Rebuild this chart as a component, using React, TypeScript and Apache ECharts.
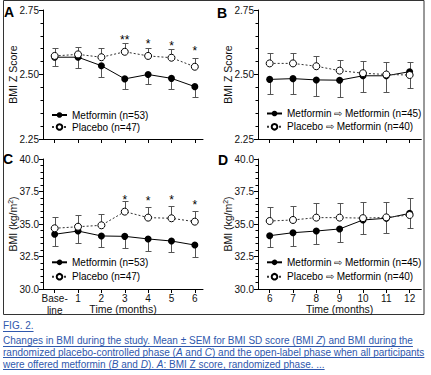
import React, { useEffect, useRef } from "react";
import * as echarts from "echarts";

// ---------- data ----------
const monthsRandom = [0, 1, 2, 3, 4, 5, 6];
const monthsOpen = [6, 7, 8, 9, 10, 11, 12];

const zMetRand = [2.567, 2.567, 2.534, 2.483, 2.5, 2.485, 2.453];
const zMetRandSem = [0.033, 0.04, 0.043, 0.04, 0.038, 0.04, 0.041];
const zPlaRand = [2.572, 2.578, 2.567, 2.588, 2.572, 2.565, 2.53];
const zPlaRandSem = [0.032, 0.03, 0.035, 0.035, 0.032, 0.034, 0.035];
const zStars = ["", "", "", "**", "*", "*", "*"];
const zStarY = [0, 0, 0, 2.645, 2.63, 2.622, 2.603];

const zMetOpen = [2.481, 2.484, 2.479, 2.478, 2.495, 2.495, 2.511];
const zMetOpenSem = [0.058, 0.06, 0.061, 0.065, 0.064, 0.064, 0.064];
const zPlaOpen = [2.543, 2.543, 2.532, 2.515, 2.505, 2.5, 2.498];
const zPlaOpenSem = [0.039, 0.039, 0.039, 0.042, 0.046, 0.048, 0.052];

const bmiMetRand = [34.21, 34.46, 34.08, 34.05, 33.85, 33.69, 33.38];
const bmiMetRandSem = [0.88, 0.9, 0.88, 0.93, 0.9, 0.87, 0.89];
const bmiPlaRand = [34.67, 34.79, 34.9, 35.95, 35.49, 35.44, 35.18];
const bmiPlaRandSem = [0.84, 0.88, 0.87, 0.82, 0.84, 0.92, 0.82];
const bmiStars = ["", "", "", "*", "*", "*", "*"];
const bmiStarY = [0, 0, 0, 37.1, 37.02, 37.1, 36.72];

const bmiMetOpen = [34.1, 34.33, 34.46, 34.62, 35.31, 35.44, 35.82];
const bmiMetOpenSem = [0.85, 1.02, 1.02, 1.03, 1.1, 1.16, 1.15];
const bmiPlaOpen = [35.23, 35.31, 35.49, 35.49, 35.45, 35.51, 35.69];
const bmiPlaOpenSem = [1.1, 1.1, 1.15, 1.15, 1.23, 1.21, 1.28];
const noStars = ["", "", "", "", "", "", ""];

const zTicks = [2.25, 2.5, 2.75];
const bmiTicks = [30, 32.5, 35, 37.5, 40];

const nameMetRand = "Metformin (n=53)";
const namePlaRand = "Placebo (n=47)";
const nameMetOpen = "Metformin ⇨ Metformin (n=45)";
const namePlaOpen = "Placebo ⇨ Metformin (n=40)";
const panelLetters = ["A", "B", "C", "D"];
const xTitle = "Time (months)";
const yTitleZ = "BMI Z Score";
const yTitleBmi = "BMI (kg/m{sup|2})";

const captionLines = [
  "FIG. 2.",
  "Changes in BMI during the study. Mean ± SEM for BMI SD score (BMI {i|Z}) and BMI during the",
  "randomized placebo-controlled phase ({i|A} and {i|C}) and the open-label phase when all participants",
  "were offered metformin ({i|B} and {i|D}). {i|A}: BMI Z score, randomized phase. ...",
];

// ---------- styles / layout ----------
const FONT = '"Liberation Sans", Arial, Helvetica, sans-serif';
const BLUE = "#2f58ad";
const BAR = "#555";
const CAP_SIZE = 10;

const grids = [
  { left: 43, top: 10, width: 160, height: 129 },
  { left: 258, top: 10, width: 163.3, height: 129 },
  { left: 43, top: 159, width: 160, height: 130 },
  { left: 258, top: 159, width: 163.3, height: 130 },
];
const legendPos = [
  { left: 51, top: 109, itemGap: 0 },
  { left: 266, top: 107.5, itemGap: 1.3 },
  { left: 51, top: 256.3, itemGap: 2.4 },
  { left: 266, top: 256.3, itemGap: 2.4 },
];
const letterPos = [
  [4, 12],
  [217, 13.3],
  [3, 159],
  [218, 160],
];

type Panel = {
  x: number[];
  met: number[];
  metSem: number[];
  pla: number[];
  plaSem: number[];
  stars: string[];
  starY: number[];
  metName: string;
  plaName: string;
  isZ: boolean;
  isOpen: boolean;
};

const panels: Panel[] = [
  { x: monthsRandom, met: zMetRand, metSem: zMetRandSem, pla: zPlaRand, plaSem: zPlaRandSem, stars: zStars, starY: zStarY, metName: nameMetRand, plaName: namePlaRand, isZ: true, isOpen: false },
  { x: monthsOpen, met: zMetOpen, metSem: zMetOpenSem, pla: zPlaOpen, plaSem: zPlaOpenSem, stars: noStars, starY: zStarY, metName: nameMetOpen, plaName: namePlaOpen, isZ: true, isOpen: true },
  { x: monthsRandom, met: bmiMetRand, metSem: bmiMetRandSem, pla: bmiPlaRand, plaSem: bmiPlaRandSem, stars: bmiStars, starY: bmiStarY, metName: nameMetRand, plaName: namePlaRand, isZ: false, isOpen: false },
  { x: monthsOpen, met: bmiMetOpen, metSem: bmiMetOpenSem, pla: bmiPlaOpen, plaSem: bmiPlaOpenSem, stars: noStars, starY: bmiStarY, metName: nameMetOpen, plaName: namePlaOpen, isZ: false, isOpen: true },
];

function measure(text: string, size: number): number {
  const c = document.createElement("canvas").getContext("2d");
  if (!c) return text.length * size * 0.45;
  c.font = `${size}px ${FONT}`;
  return c.measureText(text).width;
}

function errorBarSeries(i: number, data: number[][]) {
  return {
    type: "custom",
    xAxisIndex: i,
    yAxisIndex: i,
    z: 1,
    silent: true,
    data,
    renderItem: (_p: any, api: any) => {
      const x = api.value(0);
      const p0 = api.coord([x, api.value(1)]);
      const p1 = api.coord([x, api.value(2)]);
      const cx = Math.round(p0[0]) + 0.5;
      const y1 = Math.round(p1[1]) + 0.5;
      const st = { stroke: BAR, lineWidth: 1 };
      return {
        type: "group",
        children: [
          { type: "line", shape: { x1: cx, y1: p0[1], x2: cx, y2: y1 }, style: st },
          { type: "line", shape: { x1: cx - 3, y1, x2: cx + 3, y2: y1 }, style: st },
        ],
      };
    },
  };
}

export default function App() {
  const ref = useRef<HTMLDivElement>(null);
  useEffect(() => {
    if (!ref.current) return;
    const chart = echarts.init(ref.current, null, { renderer: "svg" });

    const xAxis: any[] = [];
    const yAxis: any[] = [];
    const series: any[] = [];
    const legend: any[] = [];

    panels.forEach((p, i) => {
      const bottom = i >= 2;
      xAxis.push({
        gridIndex: i,
        type: "value",
        min: p.isOpen ? 5.5 : -0.5,
        max: p.isOpen ? 12.5 : 6.35,
        axisLine: { show: true, onZero: false, lineStyle: { color: "#000", width: 1 } },
        axisTick: { show: true, length: 4, customValues: p.x, lineStyle: { color: "#000" } },
        axisLabel: {
          show: bottom,
          customValues: p.x,
          margin: 3,
          fontSize: 10,
          lineHeight: 12,
          color: "#111",
          fontFamily: FONT,
          formatter: (v: number) => (v === 0 ? "Base-\nline" : String(v)),
        },
        splitLine: { show: false },
        name: bottom ? xTitle : "",
        nameLocation: "middle",
        nameGap: 14,
        nameMoveOverlap: false,
        nameTextStyle: { fontSize: 10.5, color: "#111", fontFamily: FONT },
      });
      yAxis.push({
        gridIndex: i,
        type: "value",
        min: p.isZ ? zTicks[0] : bmiTicks[0],
        max: p.isZ ? zTicks[zTicks.length - 1] : bmiTicks[bmiTicks.length - 1],
        interval: p.isZ ? 0.25 : 2.5,
        axisLine: { show: true, onZero: false, lineStyle: { color: "#000", width: 1 } },
        axisTick: { show: true, length: 4, lineStyle: { color: "#000" } },
        minorTick: { show: true, splitNumber: 5, length: 2.5, lineStyle: { color: "#000" } },
        splitLine: { show: false },
        minorSplitLine: { show: false },
        axisLabel: {
          margin: 4,
          fontSize: 10,
          color: "#111",
          fontFamily: FONT,
          formatter: (v: number) => (p.isZ ? v.toFixed(2) : v.toFixed(1)),
        },
        name: p.isZ ? yTitleZ : yTitleBmi,
        nameLocation: "middle",
        nameGap: 25,
        nameMoveOverlap: false,
        nameTextStyle: {
          fontSize: 10.5,
          color: "#111",
          fontFamily: FONT,
          rich: { sup: { fontSize: 7, verticalAlign: "top", lineHeight: 8, fontFamily: FONT, color: "#111" } },
        },
      });

      series.push(errorBarSeries(i, p.x.map((v, k) => [v, p.met[k], p.met[k] - p.metSem[k]])));
      series.push(errorBarSeries(i, p.x.map((v, k) => [v, p.pla[k], p.pla[k] + p.plaSem[k]])));
      series.push({
        type: "line",
        name: p.metName,
        xAxisIndex: i,
        yAxisIndex: i,
        z: 3,
        data: p.x.map((v, k) => [v, p.met[k]]),
        symbol: "circle",
        symbolSize: 7,
        showSymbol: true,
        itemStyle: { color: "#000" },
        lineStyle: { color: "#000", width: 1 },
      });
      series.push({
        type: "line",
        name: p.plaName,
        xAxisIndex: i,
        yAxisIndex: i,
        z: 4,
        data: p.x.map((v, k) => [v, p.pla[k]]),
        symbol: "circle",
        symbolSize: 7,
        showSymbol: true,
        itemStyle: { color: "#fff", borderColor: "#000", borderWidth: 1 },
        lineStyle: { color: "#333", width: 1, type: [2, 2] },
      });
      const starData = p.x
        .map((v, k) => [v, p.starY[k], k])
        .filter((d) => p.stars[d[2]] !== "");
      if (starData.length) {
        series.push({
          type: "custom",
          xAxisIndex: i,
          yAxisIndex: i,
          z: 5,
          silent: true,
          data: starData,
          renderItem: (_pp: any, api: any) => {
            const pt = api.coord([api.value(0), api.value(1)]);
            return {
              type: "text",
              x: pt[0],
              y: pt[1] + 3,
              style: {
                text: p.stars[api.value(2)],
                fontSize: 12,
                fontFamily: FONT,
                fill: "#000",
                align: "center",
                verticalAlign: "middle",
              },
            };
          },
        });
      }
      legend.push({
        orient: "vertical",
        left: legendPos[i].left,
        top: legendPos[i].top,
        itemGap: legendPos[i].itemGap,
        padding: 0,
        itemWidth: 15,
        itemHeight: 7,
        selectedMode: false,
        data: [p.metName, p.plaName],
        textStyle: { fontSize: 10, lineHeight: 12, color: "#000", fontFamily: FONT },
      });
    });

    const graphic: any[] = [];
    graphic.push({
      type: "rect",
      shape: { x: 3.5, y: 0.5, width: 420.5, height: 314 },
      style: { fill: "none", stroke: "#333", lineWidth: 1 },
      silent: true,
    });
    panelLetters.forEach((t, i) => {
      graphic.push({
        type: "text",
        x: letterPos[i][0],
        y: letterPos[i][1],
        style: { text: t, fontSize: 14, fontWeight: "bold", fontFamily: FONT, fill: "#000", verticalAlign: "middle", align: "left" },
        silent: true,
      });
    });
    const capY = [325.5, 340.5, 352.2, 364];
    captionLines.forEach((t, i) => {
      graphic.push({
        type: "text",
        x: 3,
        y: capY[i],
        style: {
          text: t,
          fontSize: CAP_SIZE,
          fontFamily: FONT,
          fill: BLUE,
          verticalAlign: "middle",
          align: "left",
          rich: { i: { fontStyle: "italic", fontSize: CAP_SIZE, fontFamily: FONT, fill: BLUE } },
        },
        silent: true,
      });
      const plain = t.replace(/\{i\|([^}]*)\}/g, "$1");
      const w = measure(plain, CAP_SIZE);
      graphic.push({
        type: "line",
        shape: { x1: 3, y1: Math.round(capY[i] + 5) + 0.5, x2: 3 + w, y2: Math.round(capY[i] + 5) + 0.5 },
        style: { stroke: BLUE, lineWidth: 1 },
        silent: true,
      });
    });

    chart.setOption({
      animation: false,
      backgroundColor: "#fff",
      textStyle: { fontFamily: FONT },
      grid: grids.map((g) => ({ ...g, containLabel: false, outerBoundsMode: "none" })),
      xAxis,
      yAxis,
      legend,
      series,
      graphic,
    });
    return () => chart.dispose();
  }, []);
  return (
    <div
      ref={ref}
      style={{ position: "absolute", left: 0, top: 0, width: 431, height: 375, background: "#fff" }}
    />
  );
}
